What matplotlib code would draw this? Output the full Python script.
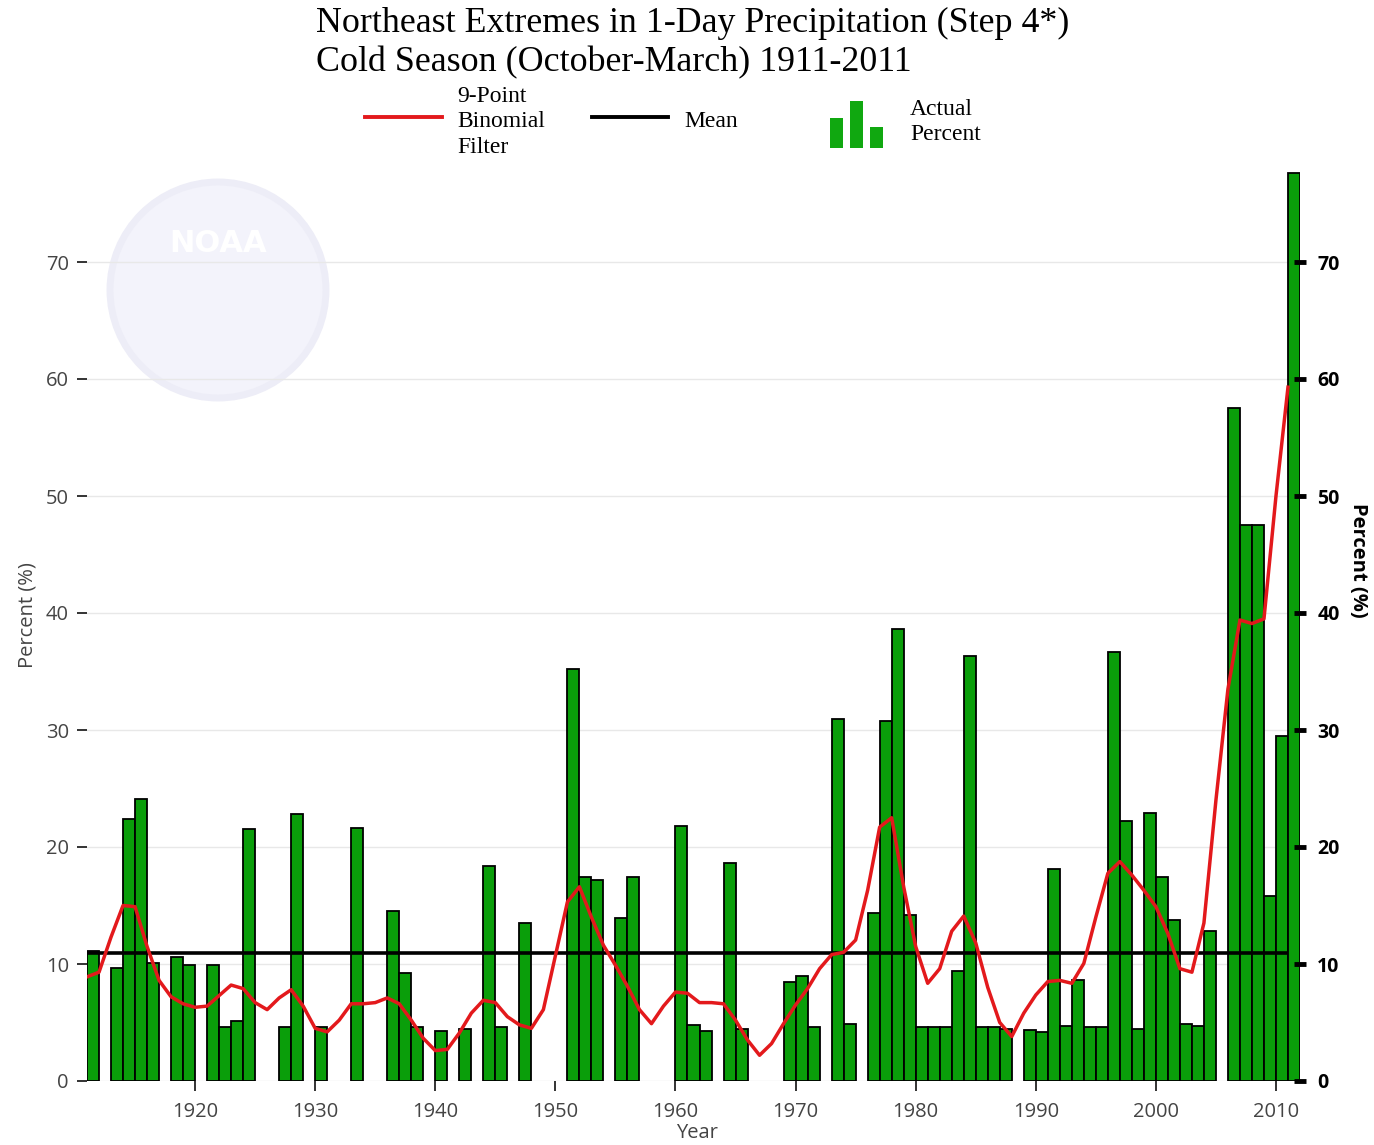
import numpy as np
import matplotlib
matplotlib.use("Agg")
import matplotlib.pyplot as plt
from matplotlib.lines import Line2D
from matplotlib.patches import Rectangle, Circle

# Data (percent per cold season, 0 = no bar)
years = np.arange(1911, 2012)
actual = [
    11.1, 0, 9.7, 22.4, 24.1, 10.1, 0, 10.6, 9.9, 0,          # 1911-1920
    9.9, 4.6, 5.1, 21.5, 0, 0, 4.6, 22.8, 0, 4.6,             # 1921-1930
    0, 0, 21.6, 0, 0, 14.5, 9.2, 4.6, 0, 4.25,                # 1931-1940
    0, 4.45, 0, 18.4, 4.6, 0, 13.5, 0, 0, 0,                  # 1941-1950
    35.2, 17.4, 17.2, 0, 13.9, 17.4, 0, 0, 0, 21.8,           # 1951-1960
    4.8, 4.25, 0, 18.6, 4.45, 0, 0, 0, 8.5, 9.0,              # 1961-1970
    4.6, 0, 30.9, 4.9, 0, 14.4, 30.75, 38.6, 14.2, 4.6,       # 1971-1980
    4.6, 4.6, 9.4, 36.3, 4.6, 4.6, 4.45, 0, 4.4, 4.2,         # 1981-1990
    18.1, 4.7, 8.6, 4.6, 4.6, 36.7, 22.2, 4.45, 22.9, 17.4,   # 1991-2000
    13.8, 4.9, 4.7, 12.8, 0, 57.5, 47.5, 47.5, 15.8, 29.5,    # 2001-2010
    77.6,                                                     # 2011
]
binomial = [
    8.9, 9.3, 12.3, 15.0, 14.9, 11.5, 8.6, 7.2, 6.6, 6.3,
    6.4, 7.3, 8.2, 7.9, 6.7, 6.1, 7.1, 7.8, 6.4, 4.5,
    4.2, 5.2, 6.6, 6.6, 6.7, 7.1, 6.6, 5.2, 3.65, 2.6,
    2.7, 4.1, 5.8, 6.9, 6.7, 5.5, 4.8, 4.5, 6.1, 10.7,
    15.3, 16.6, 14.0, 11.6, 9.9, 8.1, 6.1, 4.9, 6.4, 7.6,
    7.5, 6.7, 6.7, 6.6, 5.2, 3.5, 2.2, 3.2, 4.9, 6.5,
    7.9, 9.6, 10.8, 11.0, 12.05, 16.3, 21.7, 22.5, 16.6, 11.5,
    8.35, 9.6, 12.8, 14.1, 11.8, 8.0, 5.0, 3.8, 5.8, 7.35,
    8.5, 8.6, 8.35, 10.05, 14.0, 17.75, 18.75, 17.6, 16.3, 14.9,
    12.6, 9.6, 9.3, 13.5, 24.0, 33.5, 39.4, 39.1, 39.5, 50.0,
    59.3,
]
mean_value = 10.9
yticks = [0, 10, 20, 30, 40, 50, 60, 70]
xticks = [1920, 1930, 1940, 1950, 1960, 1970, 1980, 1990, 2000, 2010]

W, H = 1374, 1145
fig = plt.figure(figsize=(W / 100, H / 100), dpi=100)


def fx(x):
    return x / W


def fy(y):
    return 1 - y / H


# faint NOAA watermark
fig.add_artist(Circle((2.18, (H - 290) / 100), 1.08, transform=fig.dpi_scale_trans,
                      facecolor="#f3f3fb", edgecolor="#ededf7", lw=5, zorder=0))
fig.text(fx(218), fy(243), "NOAA", color="white", fontsize=22, fontweight="bold",
         ha="center", va="center", family="DejaVu Sans", zorder=1)

ax = fig.add_axes([fx(87), fy(1081), fx(1300) - fx(87), fy(145) - fy(1081)])
ax.patch.set_alpha(0)

actual = np.array(actual)
nz = actual > 0
ax.bar(years[nz], actual[nz], width=1.0, align="edge", color="#0a9e0a",
       edgecolor="black", linewidth=1.3, zorder=3)
ax.hlines(mean_value, 1911, 2011, color="black", lw=2.6, zorder=4)
ax.plot(years, binomial, color="#e3191c", lw=2.5, zorder=5)

ax.set_xlim(1911, 2012)
ax.set_ylim(0, 80)
ax.set_yticks(yticks)
ax.set_xticks(xticks)
ax.yaxis.grid(True, color="#e8e8e8", lw=1)
ax.set_axisbelow(True)
for s in ax.spines.values():
    s.set_visible(False)
ax.tick_params(axis="y", direction="out", length=7, width=1.4, color="#333333",
               labelsize=14.5, labelcolor="#444444", pad=6)
ax.tick_params(axis="x", direction="out", length=7, width=1.4, color="#333333",
               labelsize=14.5, labelcolor="#444444", pad=8)
for lab in ax.get_xticklabels() + ax.get_yticklabels():
    lab.set_family("Open Sans")

ax2 = ax.twinx()
ax2.set_ylim(0, 80)
ax2.set_yticks(yticks)
for s in ax2.spines.values():
    s.set_visible(False)
ax2.tick_params(axis="y", direction="inout", length=9, width=3.5, color="black",
                labelsize=14, pad=8)
for lab in ax2.get_yticklabels():
    lab.set_family("Open Sans")
    lab.set_fontweight("bold")

fig.text(fx(697), fy(1133), "Year", fontsize=14.5, color="#444444", family="Open Sans",
         ha="center", va="center")
fig.text(fx(28), fy(615), "Percent (%)", fontsize=14.5, color="#444444", family="Open Sans",
         rotation=90, ha="center", va="center")
fig.text(fx(1358), fy(560), "Percent (%)", fontsize=14.5, color="black", family="Open Sans",
         fontweight="bold", rotation=270, ha="center", va="center")

# title
serif = "Liberation Serif"
fig.text(fx(316), fy(23), "Northeast Extremes in 1-Day Precipitation (Step 4*)",
         family=serif, fontsize=25.8, ha="left", va="center")
fig.text(fx(316), fy(63), "Cold Season (October-March) 1911-2011",
         family=serif, fontsize=25.8, ha="left", va="center")

# legend
fig.add_artist(Line2D([fx(365), fx(442)], [fy(117), fy(117)], color="#e3191c", lw=2.8))
fig.text(fx(457), fy(122), "9-Point\nBinomial\nFilter", family=serif, fontsize=17,
         ha="left", va="center", linespacing=1.3)
fig.add_artist(Line2D([fx(592), fx(668)], [fy(117), fy(117)], color="black", lw=2.8))
fig.text(fx(684), fy(122), "Mean", family=serif, fontsize=17, ha="left", va="center")
for x0, top in [(830, 118), (850, 101), (870, 127)]:
    fig.add_artist(Rectangle((fx(x0), fy(148)), fx(13), fy(top) - fy(148),
                             transform=fig.transFigure, facecolor="#10a810", edgecolor="none"))
fig.text(fx(910), fy(122), "Actual\nPercent", family=serif, fontsize=17,
         ha="left", va="center", linespacing=1.3)

fig.savefig("out.png", dpi=100)
